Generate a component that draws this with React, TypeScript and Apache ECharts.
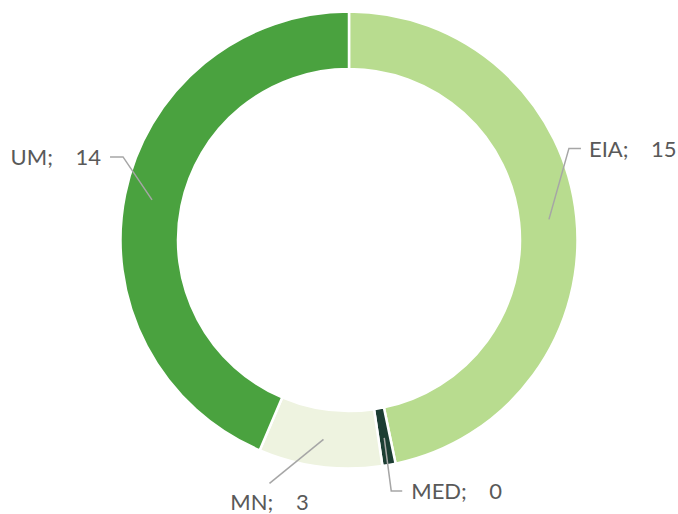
import React, { useEffect, useRef } from "react";
import * as echarts from "echarts";

const categories = ["EIA", "MED", "MN", "UM"];
// values; labels show them rounded
const values = [15, 0.3, 2.8, 14];
const colors = ["#b8dc8f", "#1c3d33", "#eef3e0", "#4aa23f"];

// label placement: offsets of the elbow relative to the leader start, tail length, text gap, text side
const LABEL_LAYOUT = [
  { dx: 20, dy: -71, tail: 12, gap: 8, side: "right" },
  { dx: 7, dy: 53, tail: 11, gap: 9, side: "right" },
  { dx: -54, dy: 44, tail: 0, gap: 18, side: "below" },
  { dx: -29, dy: -43, tail: 13, gap: 9, side: "left" },
];

const W = 678;
const H = 514;
const CX = 349;
const CY = 240;
const R_IN = 171;
const R_OUT = 228.5;
const R_MID = 201;

export default function App() {
  const ref = useRef<HTMLDivElement>(null);
  useEffect(() => {
    if (!ref.current) return;
    const chart = echarts.init(ref.current, undefined, { renderer: "svg" });
    const labelLayout = (params: any) => {
      const cfg = LABEL_LAYOUT[params.dataIndex];
      const pts = params.labelLinePoints;
      if (!cfg || !pts) return {};
      const p0 = pts[0];
      const vx = p0[0] - CX;
      const vy = p0[1] - CY;
      const len = Math.sqrt(vx * vx + vy * vy) || 1;
      const sx = CX + (vx / len) * R_MID;
      const sy = CY + (vy / len) * R_MID;
      const ex = sx + cfg.dx;
      const ey = sy + cfg.dy;
      if (cfg.side === "below") {
        return {
          x: ex,
          y: ey + cfg.gap,
          align: "center",
          verticalAlign: "middle",
          labelLinePoints: [
            [sx, sy],
            [ex, ey],
            [ex, ey],
          ],
        };
      }
      const dir = cfg.side === "right" ? 1 : -1;
      const tx = ex + dir * cfg.tail;
      return {
        x: tx + dir * cfg.gap,
        y: ey,
        align: cfg.side === "right" ? "left" : "right",
        verticalAlign: "middle",
        labelLinePoints: [
          [sx, sy],
          [ex, ey],
          [tx, ey],
        ],
      };
    };
    chart.setOption({
      animation: false,
      backgroundColor: "#ffffff",
      series: [
        {
          type: "pie",
          z: 2,
          center: [CX, CY],
          radius: [R_IN, R_OUT],
          startAngle: 90,
          clockwise: true,
          silent: true,
          itemStyle: { borderColor: "#ffffff", borderWidth: 2.5 },
          data: categories.map((name, i) => ({
            name,
            value: values[i],
            itemStyle: { color: colors[i] },
          })),
          label: { show: false },
          labelLine: { show: false },
        },
        {
          type: "pie",
          z: 5,
          center: [CX, CY],
          radius: [R_IN, R_MID],
          startAngle: 90,
          clockwise: true,
          silent: true,
          avoidLabelOverlap: false,
          itemStyle: { color: "rgba(0,0,0,0)", borderWidth: 0 },
          data: categories.map((name, i) => ({ name, value: values[i] })),
          label: {
            show: true,
            position: "outside",
            formatter: (p: any) => `${p.name};    ${Math.round(p.value)}`,
            color: "#595959",
            fontSize: 22,
            lineHeight: 22,
            fontFamily: "Lato, 'Noto Sans', sans-serif",
          },
          labelLine: {
            show: true,
            length: 10,
            length2: 10,
            lineStyle: { color: "#a6a6a6", width: 1.5 },
          },
          labelLayout,
        },
      ],
    });
    return () => chart.dispose();
  }, []);
  return (
    <div
      ref={ref}
      style={{ position: "fixed", left: 0, top: 0, width: W, height: H }}
    />
  );
}
